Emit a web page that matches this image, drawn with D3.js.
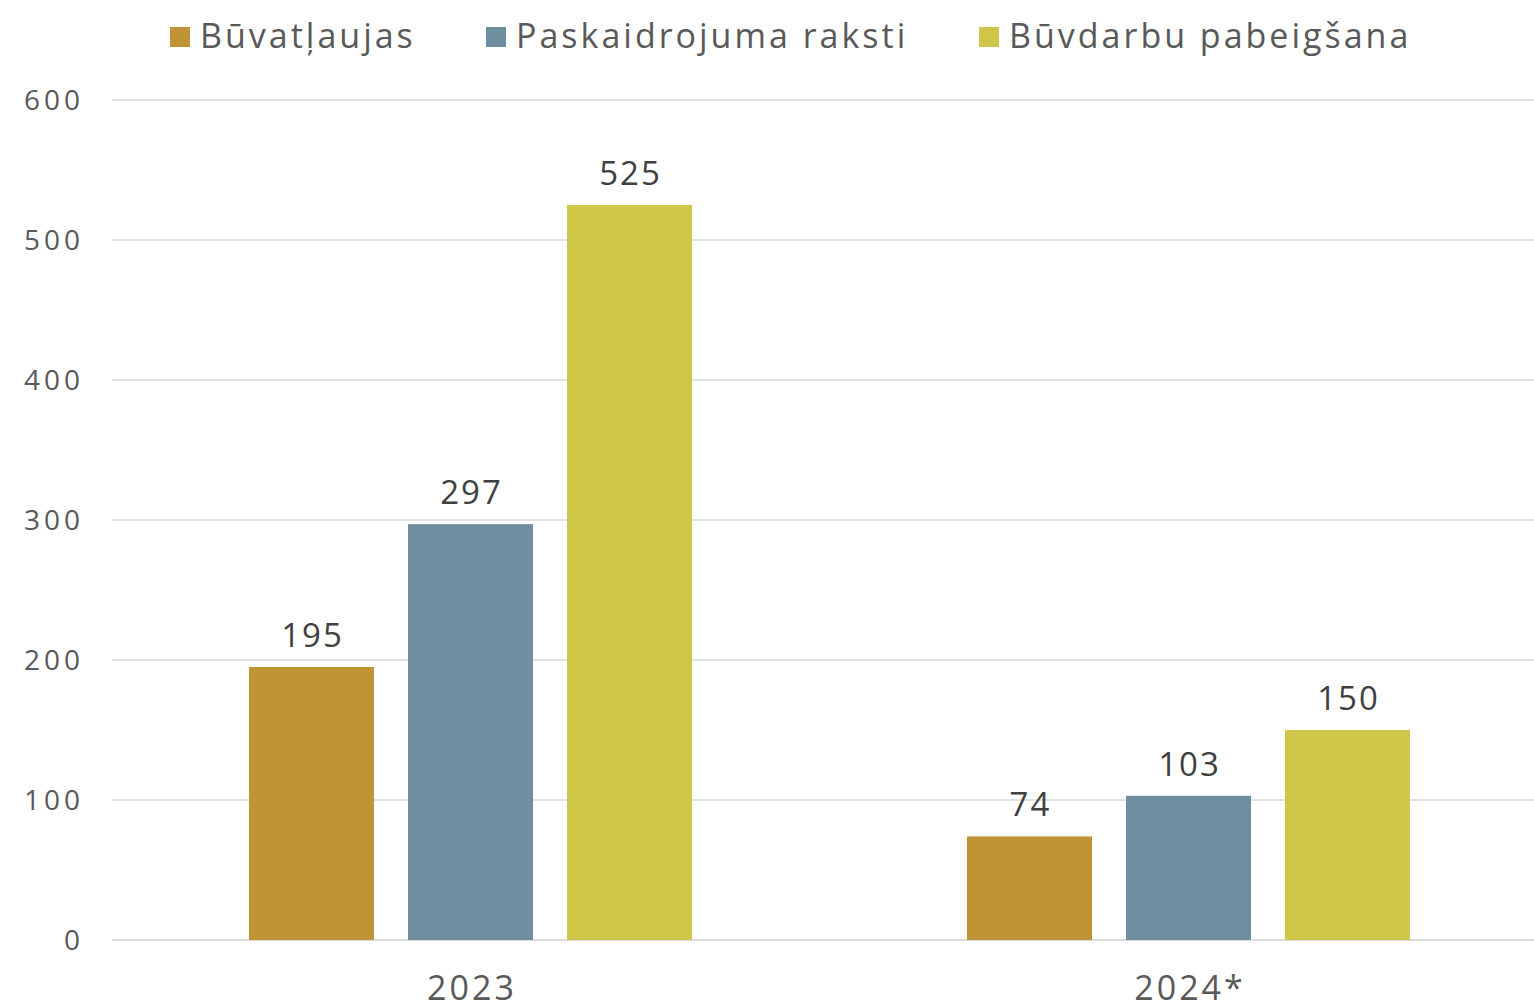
<!DOCTYPE html>
<html>
<head>
<meta charset="utf-8">
<script src="https://cdn.jsdelivr.net/npm/d3@7"></script>
<style>
  body { margin: 0; background: #fff; }
  svg text { font-family: "Open Sans", "DejaVu Sans", sans-serif; }
</style>
</head>
<body>
<div id="chart"></div>
<script>
// data
const years = ['2023', '2024*'];
const seriesNames = ['Būvatļaujas', 'Paskaidrojuma raksti', 'Būvdarbu pabeigšana'];
const buvatlaujas = [195, 74];
const paskaidrojuma = [297, 103];
const pabeigsana = [525, 150];
const yTicks = [0, 100, 200, 300, 400, 500, 600];
const colors = ['#C09335', '#6F8E9F', '#CFC64A'];

let width = 1534;
let height = 1003;
let margin = { top: 100, right: 0, bottom: 63, left: 112 };

const seriesValues = [buvatlaujas, paskaidrojuma, pabeigsana];
const data = years.map((year, i) => ({
    year,
    values: seriesNames.map((name, j) => ({ name, value: seriesValues[j][i], idx: j }))
}));

let svg = d3.select('#chart')
    .append('svg')
    .attr('width', width)
    .attr('height', height);

// the two year bands are a little wider than the visible plot
let x0 = d3.scaleBand()
    .domain(years)
    .range([margin.left, margin.left + 1436]);

let x1 = d3.scaleBand()
    .domain(seriesNames)
    .range([137, 580])
    .paddingInner(0.214);

let y = d3.scaleLinear()
    .domain([0, 600])
    .range([height - margin.bottom, margin.top]);

// gridlines
svg.append('g')
    .selectAll('line')
    .data(yTicks)
    .enter()
  .append('line')
    .attr('x1', margin.left)
    .attr('x2', width - margin.right)
    .attr('y1', d => y(d))
    .attr('y2', d => y(d))
    .attr('stroke', d => d === 0 ? '#d0d0d0' : '#d9d9d9')
    .attr('stroke-width', 1.5);

// y axis labels
svg.append('g')
    .selectAll('text')
    .data(yTicks)
    .enter()
  .append('text')
    .attr('x', 84)
    .attr('y', d => y(d))
    .attr('dy', '0.35em')
    .attr('text-anchor', 'end')
    .attr('font-size', 28)
    .attr('letter-spacing', 4)
    .attr('fill', '#595959')
    .text(d => d);

// bars
let groups = svg.append('g')
    .selectAll('g')
    .data(data)
    .enter()
  .append('g')
    .attr('transform', d => `translate(${x0(d.year)},0)`);

groups.selectAll('rect')
    .data(d => d.values)
    .enter()
  .append('rect')
    .attr('x', d => x1(d.name))
    .attr('y', d => y(d.value))
    .attr('width', x1.bandwidth())
    .attr('height', d => y(0) - y(d.value))
    .attr('fill', d => colors[d.idx]);

groups.selectAll('text.label')
    .data(d => d.values)
    .enter()
  .append('text')
    .classed('label', true)
    .attr('x', d => x1(d.name) + x1.bandwidth() / 2 + 1)
    .attr('y', d => y(d.value) - 20)
    .attr('text-anchor', 'middle')
    .attr('font-size', 33)
    .attr('letter-spacing', 2)
    .attr('fill', '#404040')
    .text(d => d.value);

// x axis labels
svg.append('g')
    .selectAll('text')
    .data(years)
    .enter()
  .append('text')
    .attr('x', d => x0(d) + x0.bandwidth() / 2 + 1)
    .attr('y', 1000)
    .attr('text-anchor', 'middle')
    .attr('font-size', 34)
    .attr('letter-spacing', 3)
    .attr('fill', '#595959')
    .text(d => d);

// legend
const legendX = [170, 486, 979];
let legend = svg.append('g')
    .selectAll('g')
    .data(seriesNames)
    .enter()
  .append('g')
    .attr('transform', (d, i) => `translate(${legendX[i]},0)`);

legend.append('rect')
    .attr('x', 0)
    .attr('y', 27)
    .attr('width', 20)
    .attr('height', 20)
    .attr('fill', (d, i) => colors[i]);

legend.append('text')
    .attr('x', 30)
    .attr('y', 48)
    .attr('font-size', 34)
    .attr('letter-spacing', 3)
    .attr('fill', '#595959')
    .text(d => d);
</script>
</body>
</html>
